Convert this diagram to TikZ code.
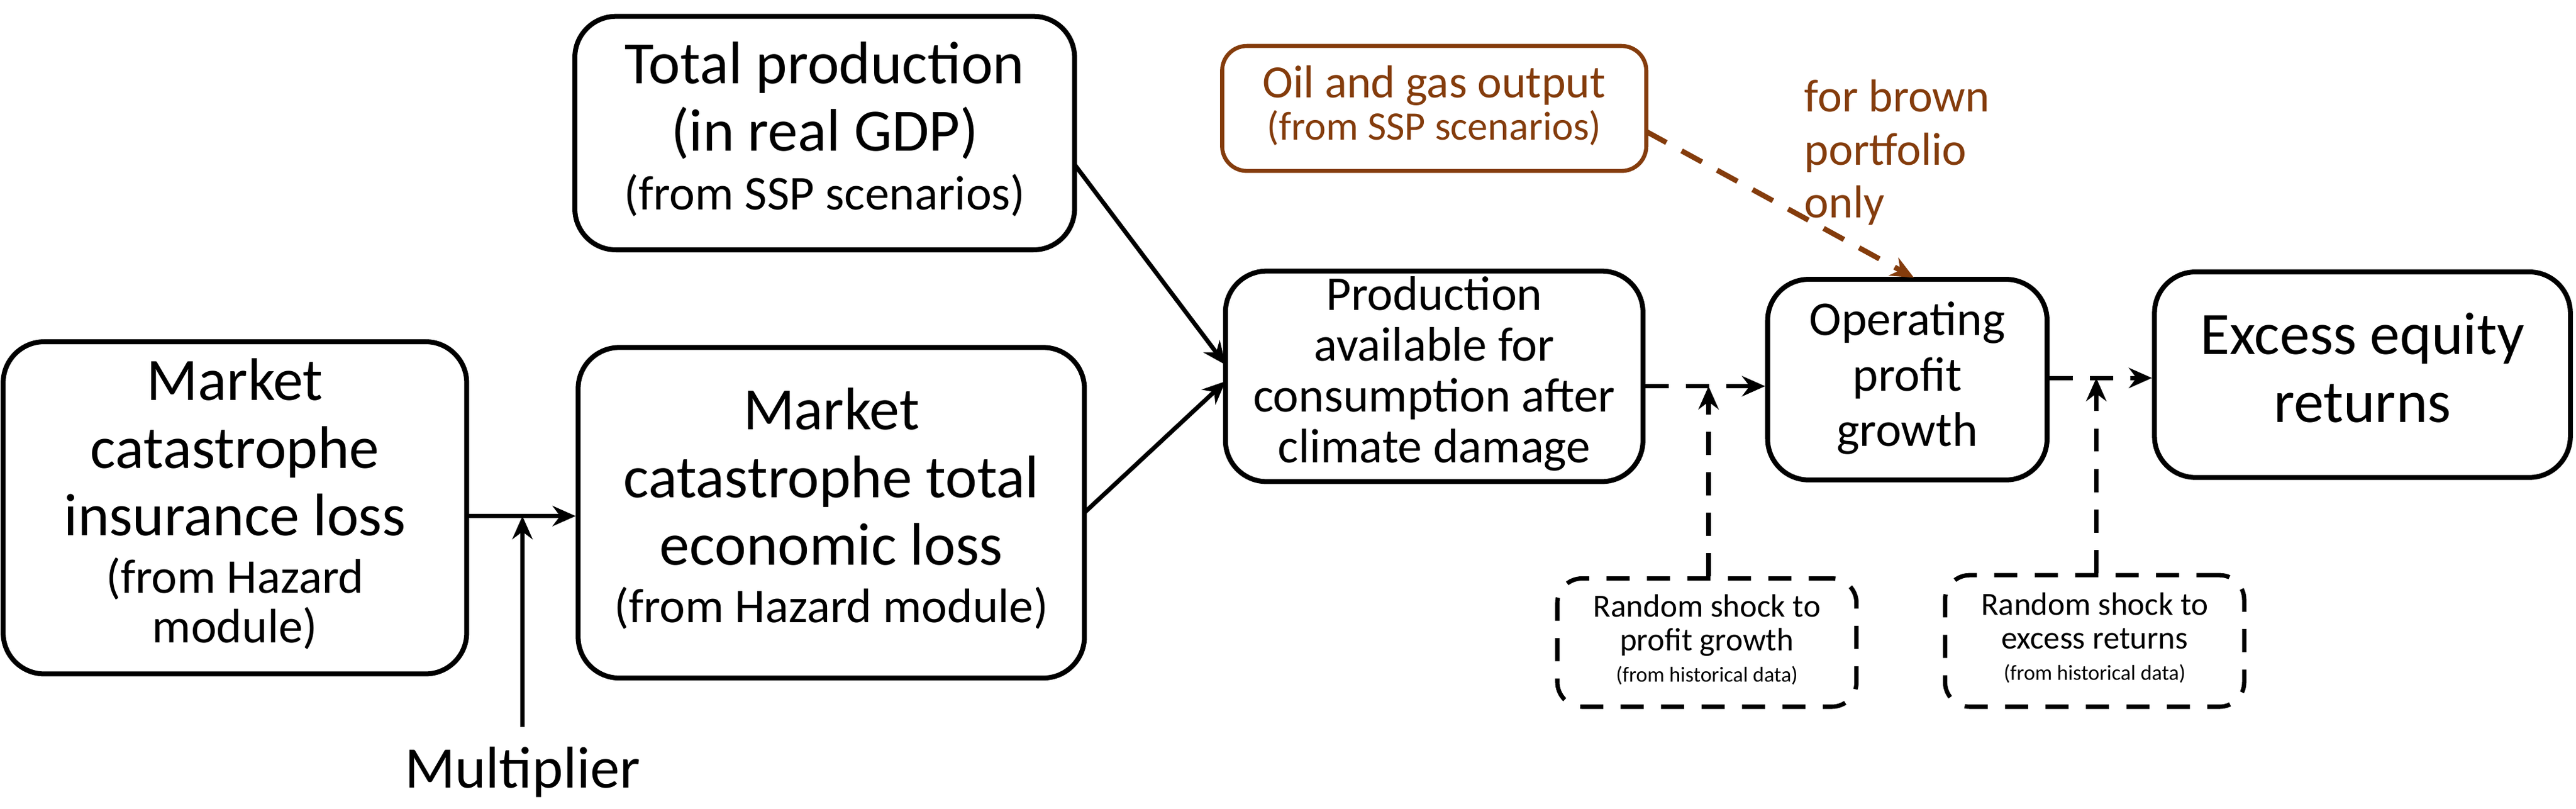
\documentclass[tikz,border=0pt]{standalone}
\usepackage{fontspec}
\setmainfont{Carlito}
\usetikzlibrary{arrows.meta}
\definecolor{brn}{HTML}{843C0C}
\newcommand{\fbig}{\fontsize{10.4}{11.7}\selectfont}
\newcommand{\fmid}{\fontsize{8.4}{8.8}\selectfont}
\newcommand{\fsm}{\fontsize{7}{8}\selectfont}
\newcommand{\fsh}{\fontsize{5.6}{5.8}\selectfont}
\newcommand{\fti}{\fontsize{3.7}{5.4}\selectfont}
\newcommand{\lines}[2]{#1\begin{tabular}{@{}c@{}}#2\end{tabular}}
\begin{document}
\begin{tikzpicture}[x=0.01cm,y=-0.01cm,
 box/.style={draw,line width=0.85pt,rounded corners=0.25cm,align=center,inner sep=0pt,font=\fmid},
 arr/.style={line width=0.75pt,-{Stealth[length=4pt,width=3.5pt]}},
 dsh/.style={arr,dash pattern=on 4pt off 3pt}]
\useasboundingbox (0,0) rectangle (1568,492);
\node[box,minimum width=2.82cm,minimum height=2.02cm] (ins) at (143,309) {\lines{\fbig}{Market\\catastrophe\\insurance loss\\[-1.7pt]\fmid (from Hazard\\[-3.2pt]\fmid module)}};
\node[box,minimum width=3.04cm,minimum height=1.42cm] (tot) at (502,81) {\lines{\fbig}{Total production\\(in real GDP)\\[-1.5pt]\fmid (from SSP scenarios)}};
\node[box,minimum width=3.08cm,minimum height=2.01cm] (eco) at (506,312) {\lines{\fbig}{Market\\catastrophe total\\economic loss\\[-1.7pt]\fmid (from Hazard module)}};
\node[box,minimum width=2.54cm,minimum height=1.28cm] (pro) at (873,229) {\lines{\fontsize{8.4}{8.8}\selectfont}{Production\\available for\\consumption after\\climate damage}};
\node[box,minimum width=1.70cm,minimum height=1.22cm] (op) at (1161,231) {\lines{\fontsize{8.4}{9.6}\selectfont}{Operating\\profit\\growth}};
\node[box,minimum width=2.53cm,minimum height=1.25cm] (ex) at (1438,228) {\lines{\fbig}{Excess equity\\returns}};
\node[box,draw=brn,text=brn,line width=0.7pt,rounded corners=0.15cm,minimum width=2.58cm,minimum height=0.76cm] (oil) at (873,66) {\lines{\fontsize{8}{8.8}\selectfont}{Oil and gas output\\[-1.5pt]\fsm (from SSP scenarios)}};
\node[text=brn,align=left,font=\fontsize{8}{9.2}\selectfont,anchor=north west] (note) at (1086,36) {for brown\\portfolio\\only};
\node[box,dash pattern=on 4pt off 3pt,line width=0.75pt,rounded corners=0.15cm,minimum width=1.82cm,minimum height=0.78cm] (s1) at (1039,391) {\lines{\fsh}{Random shock to\\profit growth\\[-0.4pt]\fti (from historical data)}};
\node[box,dash pattern=on 4pt off 3pt,line width=0.75pt,rounded corners=0.15cm,minimum width=1.82cm,minimum height=0.80cm] (s2) at (1275,390) {\lines{\fsh}{Random shock to\\excess returns\\[-0.4pt]\fti (from historical data)}};
\node[font=\fontsize{10.2}{12}\selectfont] (mul) at (318,470) {Multiplier};
\coordinate (j1) at (318,314);
\coordinate (j2) at (1040,235);
\coordinate (j3) at (1276,230);
\coordinate (t1) at (654,100);
\coordinate (t2) at (660,312);
\coordinate (p1) at (746,222);
\coordinate (p2) at (746,232);
\coordinate (o1) at (1002,80);
\coordinate (o2) at (1165,169);
\draw[arr] (ins.east|-j1) -- (eco.west|-j1);
\draw[arr] (mul.north) -- (j1);
\draw[arr] (t1) -- (p1);
\draw[arr] (t2) -- (p2);
\draw[dsh] (pro.east|-j2) -- (op.west|-j2);
\draw[dsh] (s1.north-|j2) -- (j2);
\draw[dsh] (op.east|-j3) -- (ex.west|-j3);
\draw[dsh] (s2.north-|j3) -- (j3);
\draw[dsh,brn,line width=0.9pt] (o1) -- (o2);
\end{tikzpicture}
\end{document}
